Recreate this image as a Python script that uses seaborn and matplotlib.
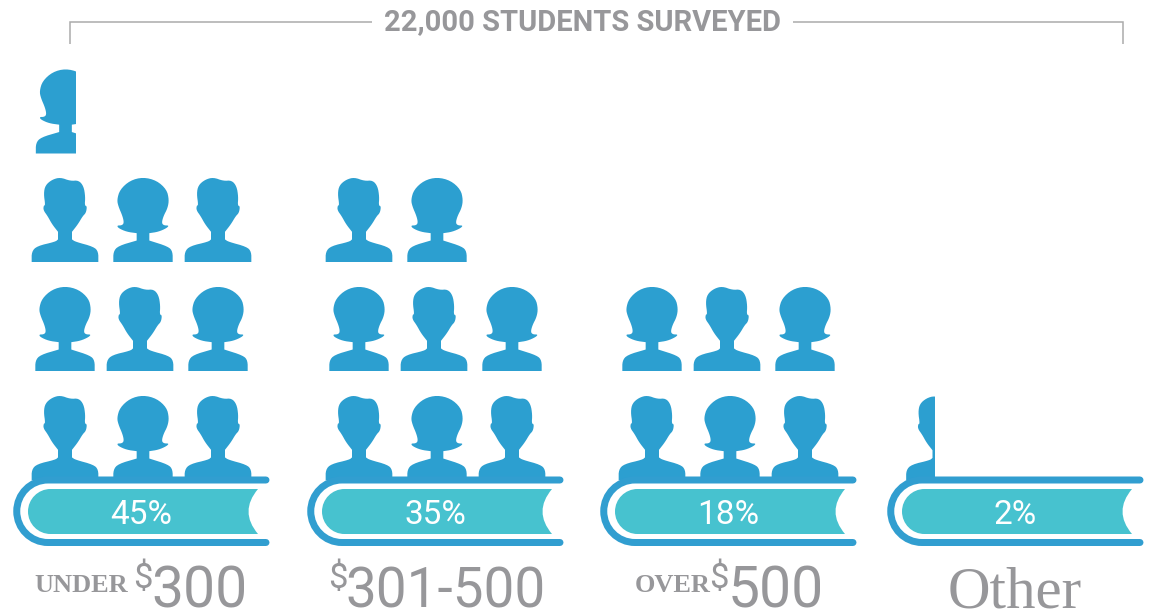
import numpy as np
import pandas as pd
import seaborn as sns
import matplotlib
matplotlib.use("Agg")
import matplotlib.pyplot as plt
from matplotlib.path import Path
from matplotlib.patches import PathPatch, Rectangle

# ---- data ----
categories = ["under 300", "301-500", "over 500", "Other"]
percents = [45, 35, 18, 2]
icon_counts = [9.67, 8, 6, 0.43]   # fractional part = clipped last figure
title = "22,000 STUDENTS SURVEYED"
label_prefix = ["UNDER", "", "OVER", ""]
label_dollar = ["$", "$", "$", ""]
label_main = ["300", "301-500", "500", "Other"]

# ---- layout / style ----
BLUE = "#2C9FD0"
BOOK = "#319ED0"
TEAL = "#47C2CF"
GRAY = "#97979A"
LINE = "#ABABAB"
col_offset = [0, 294, 587, 874]
slots = {"man": [65, 140, 218], "woman": [65, 143, 218]}
row_base = [480, 371, 262, 153]
half_w = {"man": 33.5, "woman": 30}
ICON_R = 84.0

man_outline = [(34,606),(34,575),(50,558),(105,545),(113,538),(113,538),(113,515),(113,515),(95,492),(82,468),(69,450),(70,436),
               (75,435),(70,400),(75,375),(95,358),(120,351),(150,362),(175,360),(190,378),(195,410),(193,436),
               (200,438),(197,458),(187,468),(173,492),(155,515),(155,515),(155,538),(155,538),(165,545),(220,560),(234,575),(234,606)]
woman_outline = [(280,606),(280,575),(295,558),(350,542),(350,542),(350,520),(350,520),(320,516),(295,505),(291,497),(305,497),(312,490),
                 (308,470),(295,440),(291,420),(300,390),(330,363),(369,353),(410,363),(440,390),(447,420),(443,445),
                 (430,470),(425,490),(432,497),(447,497),(440,505),(415,516),(388,520),(388,520),(388,542),(388,542),(445,560),(458,575),(458,606)]


def chaikin(p, n=2):
    p = np.asarray(p, float)
    for _ in range(n):
        q = 0.75 * p[:-1] + 0.25 * p[1:]
        r = 0.25 * p[:-1] + 0.75 * p[1:]
        mid = np.empty((2 * len(q), 2))
        mid[0::2], mid[1::2] = q, r
        p = np.vstack([p[0], mid, p[-1]])
    return p


def icon_path(outline, cx):
    p = chaikin(outline)
    x = (p[:, 0] - cx) / 3
    y = (606 - p[:, 1]) / 3
    y = y * ICON_R / y.max()
    v = np.column_stack([x, y])
    return Path(np.vstack([v, v[0]]), closed=True)


markers = {"man": icon_path(man_outline, 134), "woman": icon_path(woman_outline, 369)}

sns.set_theme(style="white", rc={"axes.facecolor": "white", "figure.facecolor": "white"})
DPI = 100
fig = plt.figure(figsize=(11.49, 6.11), dpi=DPI)
ax = fig.add_axes([0, 0, 1, 1])

full, partial = [], []
for c, n in enumerate(icon_counts):
    whole = int(n)
    for i in range(whole + (1 if n > whole else 0)):
        row, slot = i // 3, i % 3
        kind = "man" if (row + slot) % 2 == 0 else "woman"
        rec = dict(x=col_offset[c] + slots[kind][slot], y=row_base[row], kind=kind)
        if i < whole:
            full.append(rec)
        else:
            rec["edge"] = rec["x"] - half_w[kind] + (n - whole) * 2 * half_w[kind]
            partial.append(rec)

marker_size = (2 * ICON_R * 72 / DPI) ** 2
sns.scatterplot(data=pd.DataFrame(full), x="x", y="y", style="kind", markers=markers, s=marker_size,
                color=BLUE, linewidth=0, legend=False, ax=ax)
for rec in partial:
    before = len(ax.collections)
    sns.scatterplot(x=[rec["x"]], y=[rec["y"]], style=[rec["kind"]], markers={rec["kind"]: markers[rec["kind"]]},
                    s=marker_size, color=BLUE, linewidth=0, legend=False, ax=ax)
    clip = Rectangle((0, 0), rec["edge"], 611, transform=ax.transData)
    ax.collections[before].set_clip_path(clip)

ax.set_xlim(0, 1149)
ax.set_ylim(611, 0)
ax.axis("off")

# ---- books ----
K = 0.5523
for c, pct in enumerate(percents):
    o = col_offset[c]
    top, bot, r, lx, rx = 480, 542.5, 31.25, 48 + o, 266 + o
    spine = Path(
        [(rx, top), (lx, top), (lx - K * r, top), (lx - r, top + r - K * r), (lx - r, top + r),
         (lx - r, top + r + K * r), (lx - K * r, bot), (lx, bot), (rx, bot)],
        [Path.MOVETO, Path.LINETO, Path.CURVE4, Path.CURVE4, Path.CURVE4, Path.CURVE4, Path.CURVE4, Path.CURVE4, Path.LINETO])
    ax.add_patch(PathPatch(spine, fill=False, ec=BOOK, lw=7 * 72 / DPI, capstyle="round", joinstyle="round", zorder=3))
    t, b, l, e = 489, 534, 50.5 + o, 258 + o
    rr = 22.5
    page = Path(
        [(l, t), (e, t), (e - 19, (t + b) / 2), (e, b), (l, b),
         (l - K * rr, b), (l - rr, b - rr + K * rr), (l - rr, b - rr),
         (l - rr, t + rr - K * rr), (l - K * rr, t), (l, t), (l, t)],
        [Path.MOVETO, Path.LINETO, Path.CURVE3, Path.CURVE3, Path.LINETO,
         Path.CURVE4, Path.CURVE4, Path.CURVE4, Path.CURVE4, Path.CURVE4, Path.CURVE4, Path.CLOSEPOLY])
    ax.add_patch(PathPatch(page, fc=TEAL, ec="none", zorder=3))
    ax.text(o + 141.5, 523.5, f"{pct}%", color="white", fontsize=24, family="Roboto", weight="normal",
            ha="center", va="baseline", zorder=4)

# ---- labels ----
prefix_x = [34, None, 635, None]
dollar_x = [133, 328, 709, None]
main_x = [151, 346, 728, 948]
main_size = [41, 39.5, 41, 42.5]
BASE = 607
for c in range(4):
    if label_prefix[c]:
        ax.text(prefix_x[c], 592, label_prefix[c], color=GRAY, family="Liberation Serif", weight="bold",
                fontsize=19, ha="left", va="baseline")
    if label_dollar[c]:
        ax.text(dollar_x[c], 588, label_dollar[c], color=GRAY, family="Roboto", weight="normal",
                fontsize=25, ha="left", va="baseline")
    fam = "Liberation Serif" if label_main[c] == "Other" else "Roboto"
    ax.text(main_x[c], BASE, label_main[c], color=GRAY, family=fam, weight="normal", fontsize=main_size[c],
            ha="left", va="baseline")

# ---- header bracket ----
ax.plot([70, 70, 372], [44, 22, 22], color=LINE, lw=1.1, solid_joinstyle="miter", solid_capstyle="butt")
ax.plot([793, 1123, 1123], [22, 22, 44], color=LINE, lw=1.1, solid_joinstyle="miter", solid_capstyle="butt")
ax.text(583, 30.5, title, color=GRAY, family="Roboto", weight="bold", fontsize=21, ha="center", va="baseline")

fig.savefig("out.png", dpi=DPI, facecolor="white")
